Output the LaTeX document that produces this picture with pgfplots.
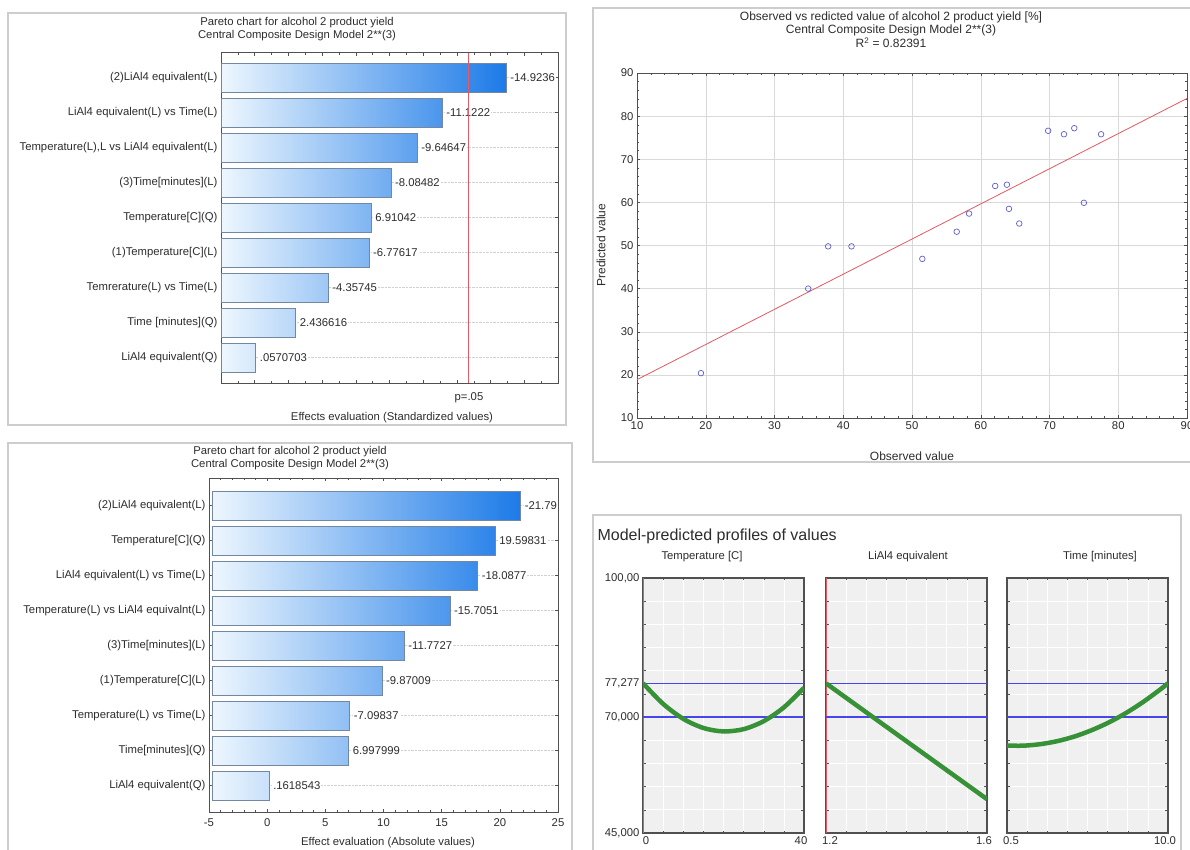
\documentclass[border=0pt]{standalone}
\usepackage{fontspec}
\setmainfont{Liberation Sans}
\usepackage{pgfplots}
\pgfplotsset{compat=1.18}
\definecolor{barL}{RGB}{238,247,254}
\definecolor{barR}{RGB}{28,122,232}
\definecolor{barE}{RGB}{115,135,160}
\definecolor{frameG}{RGB}{205,205,205}
\definecolor{axG}{RGB}{80,80,80}
\definecolor{txt}{RGB}{45,45,45}
\definecolor{ptB}{RGB}{95,95,205}
\definecolor{fitR}{RGB}{225,90,100}
\definecolor{profG}{RGB}{55,145,55}
\definecolor{profBg}{RGB}{240,240,240}
\definecolor{profLine}{RGB}{70,70,235}
\newcommand{\fs}{\fontsize{11.3}{13}\selectfont}
\newcommand{\fsb}{\fontsize{12}{14}\selectfont}
\tikzset{barlab/.style={anchor=west, font=\fs, text=txt, fill=white, inner sep=1pt, xshift=3pt}}
\pgfplotsset{
  stat/.style={
    scale only axis,
    axis line style={axG, line width=1pt},
    every tick/.style={axG, line width=0.5pt},
    major tick length=3pt, minor tick length=2pt,
    ticklabel style={font=\fs, text=txt},
    /pgf/number format/assume math mode=true,
  },
  bar/.style={draw=barE, line width=0.6pt, left color=barL, right color=barR!#1!barL, forget plot},
  pline/.style={draw=profLine, line width=1.4pt, forget plot},
}
\begin{document}
\begin{tikzpicture}[x=1pt,y=1pt]
\useasboundingbox (0,0) rectangle (1190,-850);
\clip (0,0) rectangle (1190,-850);
\fill[white] (0,0) rectangle (1190,-850);
% panel frames
\draw[frameG, line width=1.5pt] (8,-13) rectangle (566,-425);
\draw[frameG, line width=1.5pt] (8,-443) rectangle (572,-860);
\draw[frameG, line width=1.5pt] (593,-8) rectangle (1200,-462);
\draw[frameG, line width=1.5pt] (593,-515) rectangle (1181,-860);

% ---------------- Panel 1: standardized Pareto ----------------
\node[font=\fs, text=txt] at (297,-23) {Pareto chart for alcohol 2 product yield};
\node[font=\fs, text=txt] at (297,-36) {Central Composite Design Model 2**(3)};
\node[font=\fs, text=txt] at (392,-418) {Effects evaluation (Standardized values)};
\node[font=\fs, text=txt] at (469,-398) {p=.05};
\begin{axis}[stat, at={(221pt,-383pt)}, anchor=south west, width=337pt, height=330pt,
  xmin=-2, xmax=18, ymin=0.27, ymax=9.7,
  xtick={-2,0,...,18}, xticklabels={}, minor x tick num=1,
  ytick={1,...,9},
  yticklabels={LiAl4 equivalent(Q), Time [minutes](Q), Temrerature(L) vs Time(L), (1)Temperature[C](L), Temperature[C](Q), (3)Time[minutes](L), {Temperature(L),L vs LiAl4 equivalent(L)}, LiAl4 equivalent(L) vs Time(L), (2)LiAl4 equivalent(L)},
  ymajorgrids, grid style={gray!35, densely dotted}]
\addplot[bar=100] coordinates {(-2,8.59) (14.9236,8.59) (14.9236,9.41) (-2,9.41)} --cycle;
\addplot[bar=78] coordinates {(-2,7.59) (11.1222,7.59) (11.1222,8.41) (-2,8.41)} --cycle;
\addplot[bar=69] coordinates {(-2,6.59) (9.64647,6.59) (9.64647,7.41) (-2,7.41)} --cycle;
\addplot[bar=60] coordinates {(-2,5.59) (8.08482,5.59) (8.08482,6.41) (-2,6.41)} --cycle;
\addplot[bar=53] coordinates {(-2,4.59) (6.91042,4.59) (6.91042,5.41) (-2,5.41)} --cycle;
\addplot[bar=52] coordinates {(-2,3.59) (6.77617,3.59) (6.77617,4.41) (-2,4.41)} --cycle;
\addplot[bar=38] coordinates {(-2,2.59) (4.35745,2.59) (4.35745,3.41) (-2,3.41)} --cycle;
\addplot[bar=26] coordinates {(-2,1.59) (2.436616,1.59) (2.436616,2.41) (-2,2.41)} --cycle;
\addplot[bar=12] coordinates {(-2,0.59) (0.0570703,0.59) (0.0570703,1.41) (-2,1.41)} --cycle;
\node[barlab] at (axis cs:14.9236,9) {-14.9236};
\node[barlab] at (axis cs:11.1222,8) {-11.1222};
\node[barlab] at (axis cs:9.64647,7) {-9.64647};
\node[barlab] at (axis cs:8.08482,6) {-8.08482};
\node[barlab] at (axis cs:6.91042,5) {6.91042};
\node[barlab] at (axis cs:6.77617,4) {-6.77617};
\node[barlab] at (axis cs:4.35745,3) {-4.35745};
\node[barlab] at (axis cs:2.436616,2) {2.436616};
\node[barlab] at (axis cs:0.0570703,1) {.0570703};
\addplot[fitR, line width=1pt] coordinates {(12.706,0.27) (12.706,9.7)};
\end{axis}

% ---------------- Panel 3: absolute Pareto ----------------
\node[font=\fs, text=txt] at (290,-452) {Pareto chart for alcohol 2 product yield};
\node[font=\fs, text=txt] at (290,-465) {Central Composite Design Model 2**(3)};
\node[font=\fs, text=txt] at (388,-843) {Effect evaluation (Absolute values)};
\begin{axis}[stat, at={(209pt,-812pt)}, anchor=south west, width=349pt, height=334pt,
  xmin=-5, xmax=25, ymin=0.243, ymax=9.786,
  xtick={-5,0,...,25}, minor x tick num=4,
  xticklabel style={yshift=-3pt},
  ytick={1,...,9},
  yticklabels={LiAl4 equivalent(Q), Time[minutes](Q), Temperature(L) vs Time(L), (1)Temperature[C](L), (3)Time[minutes](L), Temperature(L) vs LiAl4 equivalnt(L), LiAl4 equivalent(L) vs Time(L), Temperature[C](Q), (2)LiAl4 equivalent(L)},
  ymajorgrids, grid style={gray!35, densely dotted}]
\addplot[bar=100] coordinates {(-4.75,8.59) (21.79,8.59) (21.79,9.41) (-4.75,9.41)} --cycle;
\addplot[bar=92] coordinates {(-4.75,7.59) (19.59831,7.59) (19.59831,8.41) (-4.75,8.41)} --cycle;
\addplot[bar=86] coordinates {(-4.75,6.59) (18.0877,6.59) (18.0877,7.41) (-4.75,7.41)} --cycle;
\addplot[bar=77] coordinates {(-4.75,5.59) (15.7051,5.59) (15.7051,6.41) (-4.75,6.41)} --cycle;
\addplot[bar=62] coordinates {(-4.75,4.59) (11.7727,4.59) (11.7727,5.41) (-4.75,5.41)} --cycle;
\addplot[bar=55] coordinates {(-4.75,3.59) (9.87009,3.59) (9.87009,4.41) (-4.75,4.41)} --cycle;
\addplot[bar=45] coordinates {(-4.75,2.59) (7.09837,2.59) (7.09837,3.41) (-4.75,3.41)} --cycle;
\addplot[bar=44] coordinates {(-4.75,1.59) (6.997999,1.59) (6.997999,2.41) (-4.75,2.41)} --cycle;
\addplot[bar=18] coordinates {(-4.75,0.59) (0.1618543,0.59) (0.1618543,1.41) (-4.75,1.41)} --cycle;
\node[barlab] at (axis cs:21.79,9) {-21.79};
\node[barlab] at (axis cs:19.59831,8) {19.59831};
\node[barlab] at (axis cs:18.0877,7) {-18.0877};
\node[barlab] at (axis cs:15.7051,6) {-15.7051};
\node[barlab] at (axis cs:11.7727,5) {-11.7727};
\node[barlab] at (axis cs:9.87009,4) {-9.87009};
\node[barlab] at (axis cs:7.09837,3) {-7.09837};
\node[barlab] at (axis cs:6.997999,2) {6.997999};
\node[barlab] at (axis cs:0.1618543,1) {.1618543};
\end{axis}

% ---------------- Panel 2: observed vs predicted ----------------
\node[font=\fsb, text=txt] at (891,-17) {Observed vs redicted value of alcohol 2 product yield [\%]};
\node[font=\fsb, text=txt] at (891,-30) {Central Composite Design Model 2**(3)};
\node[font=\fsb, text=txt] at (891,-43) {R\textsuperscript{2} = 0.82391};
\node[font=\fsb, text=txt, rotate=90] at (601,-245) {Predicted value};
\node[font=\fsb, text=txt] at (912,-456) {Observed value};
\begin{axis}[stat, at={(637pt,-418pt)}, anchor=south west, width=550pt, height=345pt,
  xmin=10, xmax=90, ymin=10, ymax=90,
  xtick={10,20,...,90}, ytick={10,20,...,90}, minor tick num=4,
  grid=major, grid style={gray!30}]
\addplot[only marks, mark=o, mark size=2.8pt, mark options={ptB, line width=0.7pt}] coordinates {
(19.3,20.4) (34.9,40.0) (37.8,49.8) (41.2,49.8) (51.5,46.9) (56.5,53.2)
(58.3,57.4) (62.1,63.8) (63.8,64.1) (64.1,58.5) (65.6,55.1) (69.8,76.6)
(72.1,75.8) (73.6,77.2) (75.0,59.9) (77.5,75.8)};
\addplot[fitR, line width=0.8pt] coordinates {(10,18.9) (90,84.1)};
\end{axis}

% ---------------- Panel 4: profiles ----------------
\node[font=\fontsize{16}{18}\selectfont, text=txt, anchor=west] at (594,-536) {Model-predicted profiles of values};
\node[font=\fs, text=txt] at (702,-557) {Temperature [C]};
\node[font=\fs, text=txt] at (908,-557) {LiAl4 equivalent};
\node[font=\fs, text=txt] at (1100,-557) {Time [minutes]};
\pgfplotsset{prof/.style={stat, anchor=south west, width=161pt, height=255pt,
  ymin=45, ymax=100, ytick={45,50,...,100}, yticklabels={},
  axis background/.style={fill=profBg},
  axis line style={axG, line width=1.3pt},
  xmajorgrids, xminorgrids, minor x tick num=7,
  grid style={white, line width=0.8pt}, minor grid style={white, line width=0.6pt},
  ymajorgrids}}
\begin{axis}[prof, at={(643pt,-833pt)}, xmin=0, xmax=40, xtick={0,40},
  xticklabels={\hspace*{6pt}0,40\hspace*{6pt}},
  extra y ticks={45,70,77.277,100}, extra y tick labels={{45,000},{70,000},{77,277},{100,00}},
  extra y tick style={grid=none}]
\addplot[draw=fitR, line width=0.8pt, forget plot] coordinates {(0,45) (0,100)};
\addplot[pline] coordinates {(0,77.277) (40,77.277)};
\addplot[pline] coordinates {(0,70) (40,70)};
\addplot[draw=profG, line width=4.5pt, smooth] coordinates {(0,77.30) (5,72.85) (10,69.63) (15,67.65) (20,66.91) (25,67.40) (30,69.13) (35,72.10) (40,76.31)};
\end{axis}
\begin{axis}[prof, at={(826pt,-833pt)}, xmin=1.2, xmax=1.6, xtick={1.2,1.6},
  xticklabels={\hspace*{8pt}1.2,1.6\hspace*{6pt}}]
\addplot[draw=fitR, line width=0.8pt, forget plot] coordinates {(1.2,45) (1.2,100)};
\addplot[pline] coordinates {(1.2,77.277) (1.6,77.277)};
\addplot[pline] coordinates {(1.2,70) (1.6,70)};
\addplot[draw=profG, line width=4.5pt] coordinates {(1.2,77.28) (1.6,52.3)};
\end{axis}
\begin{axis}[prof, at={(1007pt,-833pt)}, xmin=0.5, xmax=10, xtick={0.5,10},
  xticklabels={\hspace*{8pt}0.5,10.0\hspace*{6pt}}]
\addplot[pline] coordinates {(0.5,77.277) (10,77.277)};
\addplot[pline] coordinates {(0.5,70) (10,70)};
\addplot[draw=profG, line width=4.5pt, smooth] coordinates {(0.5,63.84) (1.5,63.84) (2.5,64.18) (3.5,64.84) (4.5,65.84) (5.5,67.18) (6.5,68.84) (7.5,70.84) (8.5,73.18) (9.5,75.84) (10,77.30)};
\end{axis}
\end{tikzpicture}
\end{document}
